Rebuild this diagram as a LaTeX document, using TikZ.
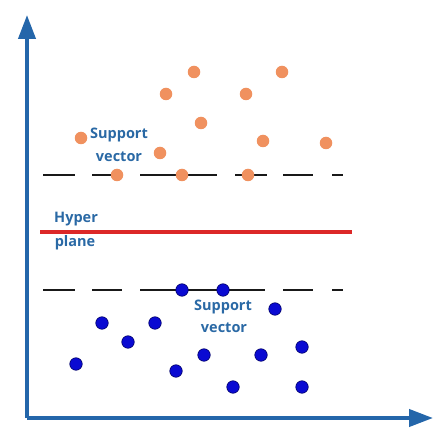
\documentclass[tikz,border=0pt]{standalone}
\usepackage{fontspec}
\setmainfont{Open Sans}
\usetikzlibrary{arrows.meta}
\definecolor{axisblue}{RGB}{36,102,170}
\definecolor{labelblue}{RGB}{42,105,165}
\definecolor{dotorange}{RGB}{240,145,95}
\definecolor{dotblue}{RGB}{10,10,210}
\definecolor{hyperred}{RGB}{220,40,40}
\tikzset{
  axisline/.style={draw=axisblue, line width=4pt, -{Triangle[length=24pt,width=17pt]}},
  margin/.style={draw=black!90, line width=2.4pt},
  hyper/.style={draw=hyperred, line width=3.2pt},
  odot/.style={circle, fill=dotorange, inner sep=0pt, minimum size=12.5pt},
  bdot/.style={circle, fill=dotblue, draw=black!60!blue, line width=0.6pt, inner sep=0pt, minimum size=12.5pt},
  lbl/.style={text=labelblue, font=\bfseries\fontsize{14.5}{16}\selectfont, inner sep=0pt}
}
\begin{document}
\begin{tikzpicture}[x=1pt,y=-1pt]
\useasboundingbox[fill=white] (0,0) rectangle (441,435);
% axes
\coordinate (O) at (27,418);
\coordinate (ytip) at (27,15);
\coordinate (xtip) at (433,418);
\draw[axisline] (O) -- (ytip);
\draw[axisline] (O) -- (xtip);
% upper margin
\foreach \a/\b in {43/75, 92/122, 140/217, 235/267, 283/313, 332/343}
  \draw[margin] (\a,175) -- (\b,175);
% lower margin
\foreach \a/\b in {43/75, 92/122, 140/265, 283/313, 332/343}
  \draw[margin] (\a,290) -- (\b,290);
% hyperplane
\coordinate (h1) at (40,232);
\coordinate (h2) at (352,232);
\draw[hyper] (h1) -- (h2);
% labels
\node[lbl] (hyp1) at (76,219) {Hyper};
\node[lbl] (hyp2) at (75,243) {plane};
\node[lbl] (sv1a) at (119,135) {Support};
\node[lbl] (sv1b) at (119,157) {vector};
\node[lbl] (sv2a) at (223,307) {Support};
\node[lbl] (sv2b) at (224,328) {vector};
% orange dots
\foreach \x/\y [count=\i] in {194/72, 282/72, 166/94, 246/94, 201/123, 263/141, 326/143, 160/153, 81/138, 117/175, 182/175, 248/175}
  \node[odot] (o\i) at (\x,\y) {};
% blue dots
\foreach \x/\y [count=\i] in {102/323, 155/323, 275/309, 128/342, 76/364, 176/371, 204/355, 261/355, 302/347, 233/387, 302/387, 182/290, 223/290}
  \node[bdot] (b\i) at (\x,\y) {};
\end{tikzpicture}
\end{document}
